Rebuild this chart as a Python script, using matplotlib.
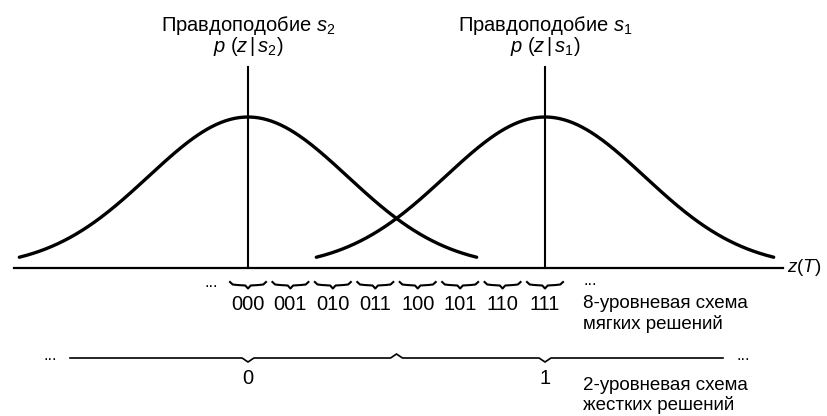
import numpy as np
import matplotlib
matplotlib.use('Agg')
import matplotlib.pyplot as plt

plt.rcParams['font.family'] = ['Liberation Sans', 'DejaVu Sans']
plt.rcParams['mathtext.fontset'] = 'custom'
plt.rcParams['mathtext.rm'] = 'Liberation Sans'
plt.rcParams['mathtext.it'] = 'Liberation Sans:italic'

# likelihood curves: s2 centred at 0, s1 centred at 1
means = [0.0, 1.0]
sigma = 0.335
half_width = 0.77
titles = ['Правдоподобие $s_2$', 'Правдоподобие $s_1$']
subtitles = ['$p\\ (z\\,|\\,s_2)$', '$p\\ (z\\,|\\,s_1)$']

# 8-level soft decision
soft_labels = ['000', '001', '010', '011', '100', '101', '110', '111']
# 2-level hard decision
hard_labels = ['0', '1']
hard_pos = [0.0, 1.0]

px = 1 / 297  # x units per pixel
py = 1 / 151  # y units per pixel

fig = plt.figure(figsize=(8.28, 4.16), dpi=100)
ax = fig.add_axes([0, 0, 1, 1])
ax.set_xlim(-248 * px, 580 * px)
ax.set_ylim(-148 * py, 268 * py)
ax.axis('off')

# axis z(T)
ax.plot([-234 * px, 535 * px], [0, 0], color='black', lw=1.6)
ax.text(539 * px, 0, '$z(T)$', fontsize=13.5, va='center', ha='left')

for m, t, st in zip(means, titles, subtitles):
    z = np.linspace(m - half_width, m + half_width, 300)
    p = np.exp(-(z - m) ** 2 / (2 * sigma ** 2))
    ax.plot(z, p, color='black', lw=2.4, solid_capstyle='round')
    ax.plot([m, m], [0, 1.33], color='black', lw=1.5)
    ax.text(m, 237 * py, t, fontsize=14.5, ha='center', va='baseline')
    ax.text(m, 216 * py, st, fontsize=14.5, ha='center', va='baseline')

# braces for soft levels
soft_pos = np.arange(len(soft_labels)) / (len(soft_labels) - 1)
bw = 18 * px
y0 = -17 * py
bh = 5 * py
for c, lab in zip(soft_pos, soft_labels):
    bx = [c - bw, c - 0.85 * bw, c - 0.6 * bw, c - 0.15 * bw, c, c + 0.15 * bw, c + 0.6 * bw, c + 0.85 * bw, c + bw]
    by = [y0 + 0.6 * bh, y0 + 0.1 * bh, y0, y0 - 0.1 * bh, y0 - 0.7 * bh, y0 - 0.1 * bh, y0, y0 + 0.1 * bh, y0 + 0.6 * bh]
    ax.plot(bx, by, color='black', lw=1.5)
    ax.text(c, -37 * py, lab, fontsize=14.5, ha='center', va='center')

ax.text(-37 * px, -19 * py, '...', fontsize=12, ha='center', va='baseline')
ax.text(342 * px, -17 * py, '...', fontsize=12, ha='center', va='baseline')
ax.text(335 * px, -35 * py, '8-уровневая схема', fontsize=13.5, ha='left', va='center')
ax.text(335 * px, -56 * py, 'мягких решений', fontsize=13.5, ha='left', va='center')

# hard decision line
yl = -90 * py
tk = 4 * py
lx = [-178 * px, -0.02, 0, 0.02, 0.48, 0.5, 0.52, 0.98, 1.0, 1.02, 475 * px]
ly = [yl, yl, yl - tk, yl, yl, yl + tk, yl, yl, yl - tk, yl, yl]
ax.plot(lx, ly, color='black', lw=1.2)
ax.text(-198 * px, yl - 2 * py, '...', fontsize=12, ha='center', va='baseline')
ax.text(495 * px, yl - 2 * py, '...', fontsize=12, ha='center', va='baseline')
for hp, hl in zip(hard_pos, hard_labels):
    ax.text(hp, -111 * py, hl, fontsize=14.5, ha='center', va='center')
ax.text(335 * px, -117 * py, '2-уровневая схема', fontsize=13.5, ha='left', va='center')
ax.text(335 * px, -137 * py, 'жестких решений', fontsize=13.5, ha='left', va='center')

fig.savefig('out.png', dpi=100)
